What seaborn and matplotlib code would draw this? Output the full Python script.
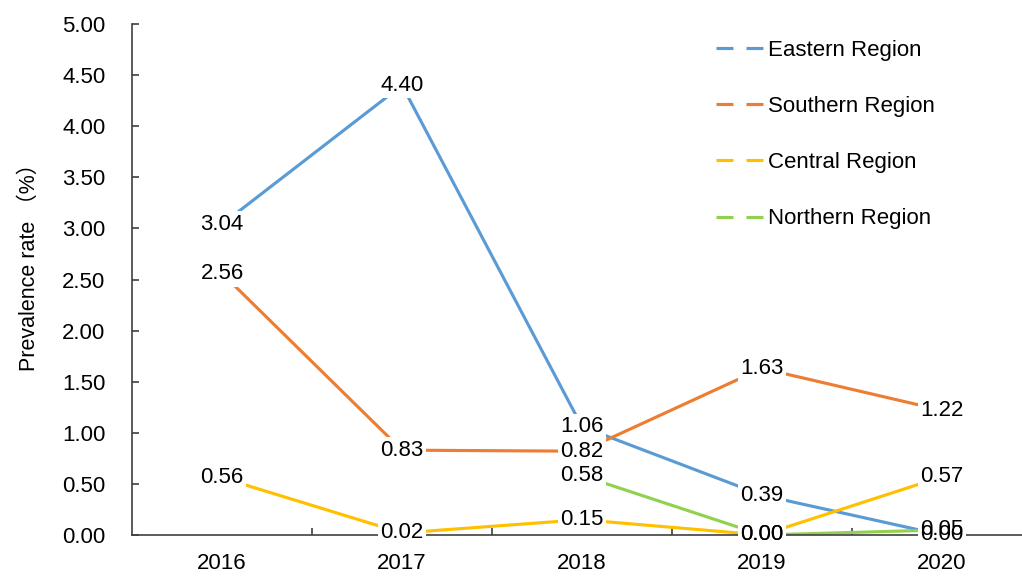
import matplotlib
matplotlib.use("Agg")
import matplotlib.pyplot as plt
import seaborn as sns
import pandas as pd
from matplotlib.lines import Line2D
from matplotlib.ticker import FormatStrFormatter, FixedLocator

years = ["2016", "2017", "2018", "2019", "2020"]
eastern = [3.04, 4.40, 1.06, 0.39, 0.00]
southern = [2.56, 0.83, 0.82, 1.63, 1.22]
central = [0.56, 0.02, 0.15, 0.00, 0.57]
northern_years = ["2018", "2019", "2020"]
northern = [0.58, 0.00, 0.05]

series_names = ["Eastern Region", "Southern Region", "Central Region", "Northern Region"]
colors = {"Eastern Region": "#5B9BD5", "Southern Region": "#ED7D31",
          "Central Region": "#FFC000", "Northern Region": "#92D050"}

rows = []
for name, xs, vals in [("Eastern Region", years, eastern),
                       ("Southern Region", years, southern),
                       ("Central Region", years, central),
                       ("Northern Region", northern_years, northern)]:
    for x, v in zip(xs, vals):
        rows.append({"Year": x, "Rate": v, "Region": name})
df = pd.DataFrame(rows)
df["Xpos"] = df["Year"].map({y: i for i, y in enumerate(years)})

sns.set_style("ticks")
plt.rcParams["font.family"] = ["Liberation Sans", "Noto Sans CJK SC", "DejaVu Sans"]
plt.rcParams["lines.scale_dashes"] = False
plt.rcParams["text.color"] = "black"
plt.rcParams["axes.labelcolor"] = "black"
FS = 16

fig = plt.figure(figsize=(10.22, 5.76), dpi=100)
ax = fig.add_axes([132/1022, 1-535/576, 1-132/1022, (535-24)/576])

sns.lineplot(data=df, x="Xpos", y="Rate", hue="Region", hue_order=series_names,
             palette=colors, linewidth=2.25, ax=ax, legend=False, zorder=2,
             solid_capstyle="butt")

# data labels: boxes first, then text so overlapping labels stay readable
for _, r in df.iterrows():
    ax.text(r["Xpos"], r["Rate"], f"{r['Rate']:.2f}", ha="center", va="center",
            fontsize=FS, color="white", zorder=4,
            bbox=dict(boxstyle="square,pad=0.12", fc="white", ec="none"))
for _, r in df.iterrows():
    ax.text(r["Xpos"], r["Rate"], f"{r['Rate']:.2f}", ha="center", va="center",
            fontsize=FS, color="black", zorder=5)

ax.set_xlim(-0.5, -0.5 + (1022-132)/180)
ax.set_ylim(0, 5)
ax.set_xticks(range(len(years)))
ax.set_xticklabels(years)
ax.xaxis.set_minor_locator(FixedLocator([0.5, 1.5, 2.5, 3.5]))
ax.set_yticks([i * 0.5 for i in range(11)])
ax.yaxis.set_major_formatter(FormatStrFormatter("%.2f"))

axis_color = "#404040"
for s in ["top", "right"]:
    ax.spines[s].set_visible(False)
for s in ["left", "bottom"]:
    ax.spines[s].set_color(axis_color)
    ax.spines[s].set_linewidth(1.2)
ax.tick_params(axis="x", which="major", length=0, pad=13, labelsize=FS, labelcolor="black")
ax.tick_params(axis="x", which="minor", length=5, width=1.2, direction="in", color=axis_color)
ax.tick_params(axis="y", which="major", length=5, width=1.2, direction="in",
               pad=19, labelsize=FS, color=axis_color, labelcolor="black")

ax.set_xlabel("")
ax.set_ylabel("Prevalence rate （%）", fontsize=15.5)
ax.yaxis.set_label_coords(-0.103, 0.534)

handles = [Line2D([0], [0], color=colors[n], linewidth=2.25, dashes=(12.2, 9.4),
                  solid_capstyle="butt", dash_capstyle="butt") for n in series_names]
ax.legend(handles, series_names, loc="upper left",
          bbox_to_anchor=(716/1022, 1-40/576), bbox_transform=fig.transFigure,
          frameon=False, fontsize=FS, borderpad=0, borderaxespad=0,
          handlelength=2.12, handletextpad=0.22, labelspacing=1.58)

fig.savefig("out.png", dpi=100)
